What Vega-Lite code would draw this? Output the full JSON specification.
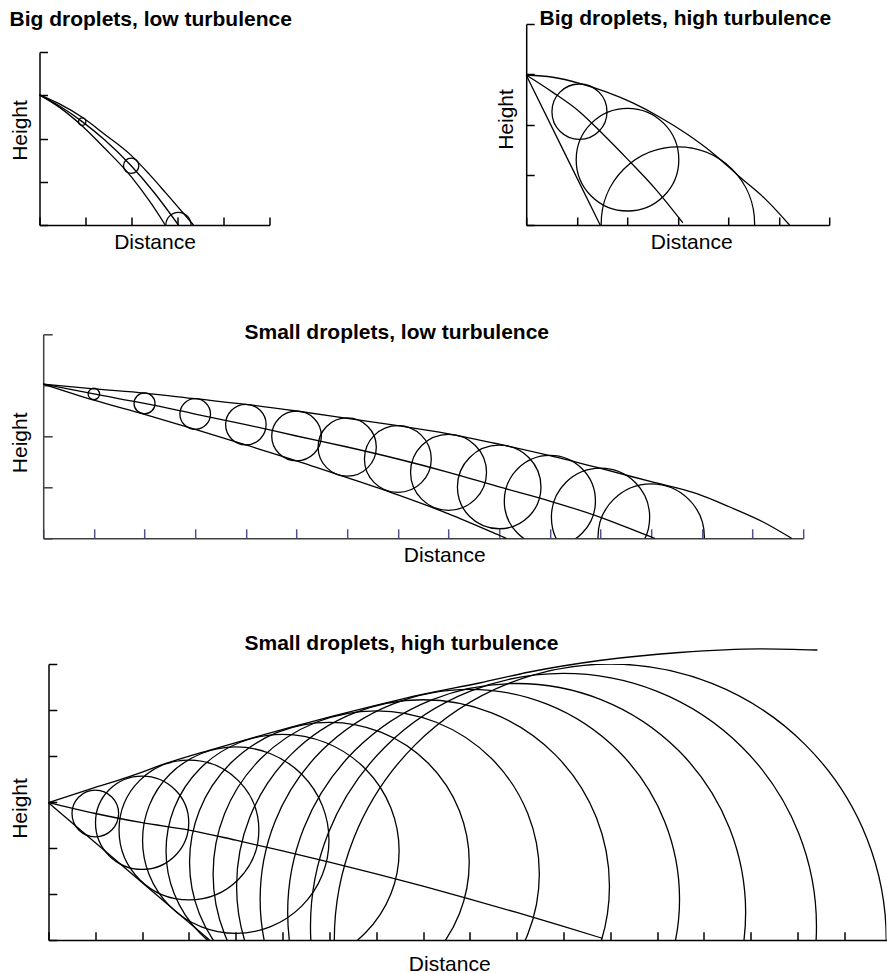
{
  "$schema": "https://vega.github.io/schema/vega-lite/v6.json",
  "padding": {"left": 8.5, "top": 7, "right": 0, "bottom": 0},
  "autosize": {"type": "pad"},
  "background": "white",
  "bounds": "flush",
  "spacing": 310.3,
  "resolve": {"scale": {"x": "independent", "y": "independent", "size": "independent"}, "legend": {"size": "independent"}},
  "config": {
    "view": {"stroke": null},
    "font": "Liberation Sans",
    "axis": {"labels": false, "grid": false, "domainColor": "#000", "tickColor": "#000", "domainWidth": 1.5, "tickWidth": 1.5, "titleFont": "Liberation Sans", "titleFontSize": 21, "titleFontWeight": "normal", "titleColor": "#000", "titleBaseline": "alphabetic"},
    "axisX": {"titleAlign": "center", "titleAngle": 0},
    "axisY": {"titleAlign": "center", "titleAngle": 270},
    "title": {"font": "Liberation Sans", "fontSize": 21, "fontWeight": "bold", "anchor": "start", "frame": "group", "color": "#000", "baseline": "alphabetic"},
    "line": {"color": "#000", "strokeWidth": 1.3, "interpolate": "monotone"},
    "point": {"shape": "circle", "filled": false, "stroke": "#000", "strokeWidth": 1.3, "opacity": 1}
  },
  "datasets": {
    "p1_lines": [
      {"s": "upper", "x": 0, "y": 3.01}, {"s": "upper", "x": 0.435, "y": 2.8}, {"s": "upper", "x": 0.928, "y": 2.49}, {"s": "upper", "x": 1.413, "y": 2.1}, {"s": "upper", "x": 1.993, "y": 1.61}, {"s": "upper", "x": 2.39, "y": 1.17}, {"s": "upper", "x": 2.755, "y": 0.73}, {"s": "upper", "x": 3.348, "y": 0},
      {"s": "middle", "x": 0, "y": 3.01}, {"s": "middle", "x": 0.435, "y": 2.75}, {"s": "middle", "x": 0.928, "y": 2.39}, {"s": "middle", "x": 1.413, "y": 1.97}, {"s": "middle", "x": 1.993, "y": 1.37}, {"s": "middle", "x": 2.5, "y": 0.74}, {"s": "middle", "x": 3.02, "y": 0},
      {"s": "lower", "x": 0, "y": 3.01}, {"s": "lower", "x": 0.435, "y": 2.72}, {"s": "lower", "x": 0.928, "y": 2.29}, {"s": "lower", "x": 1.413, "y": 1.78}, {"s": "lower", "x": 1.993, "y": 1.12}, {"s": "lower", "x": 2.39, "y": 0.555}, {"s": "lower", "x": 2.733, "y": 0}
    ],
    "p1_circles": [
      {"x": 0.928, "y": 2.39, "r": 0.08}, {"x": 1.993, "y": 1.37, "r": 0.167}, {"x": 3.02, "y": 0, "r": 0.274}
    ],
    "p2_lines": [
      {"s": "upper", "x": 0, "y": 2.985}, {"s": "upper", "x": 0.527, "y": 2.94}, {"s": "upper", "x": 1.055, "y": 2.82}, {"s": "upper", "x": 1.584, "y": 2.65}, {"s": "upper", "x": 2.111, "y": 2.43}, {"s": "upper", "x": 2.64, "y": 2.15}, {"s": "upper", "x": 3.168, "y": 1.82}, {"s": "upper", "x": 3.696, "y": 1.43}, {"s": "upper", "x": 4.224, "y": 0.96}, {"s": "upper", "x": 4.752, "y": 0.5}, {"s": "upper", "x": 5.214, "y": 0},
      {"s": "middle", "x": 0, "y": 2.985}, {"s": "middle", "x": 0.527, "y": 2.64}, {"s": "middle", "x": 1.055, "y": 2.255}, {"s": "middle", "x": 1.517, "y": 1.81}, {"s": "middle", "x": 2.006, "y": 1.31}, {"s": "middle", "x": 2.574, "y": 0.7}, {"s": "middle", "x": 3.101, "y": 0.045},
      {"s": "lower", "x": 0, "y": 2.985}, {"s": "lower", "x": 0.733, "y": 1.49}, {"s": "lower", "x": 1.465, "y": 0}
    ],
    "p2_circles": [
      {"x": 1.055, "y": 2.255, "r": 0.545}, {"x": 2.006, "y": 1.3, "r": 1.016}, {"x": 3.004, "y": 0.03, "r": 1.519}
    ],
    "p3_lines": [
      {"s": "upper", "x": 0, "y": 3.025}, {"s": "upper", "x": 1, "y": 2.93}, {"s": "upper", "x": 2, "y": 2.847}, {"s": "upper", "x": 3, "y": 2.737}, {"s": "upper", "x": 4, "y": 2.627}, {"s": "upper", "x": 5, "y": 2.496}, {"s": "upper", "x": 6, "y": 2.353}, {"s": "upper", "x": 7, "y": 2.208}, {"s": "upper", "x": 8, "y": 2.049}, {"s": "upper", "x": 9, "y": 1.845}, {"s": "upper", "x": 10, "y": 1.62}, {"s": "upper", "x": 11, "y": 1.37}, {"s": "upper", "x": 12, "y": 1.11}, {"s": "upper", "x": 12.9, "y": 0.876}, {"s": "upper", "x": 13.55, "y": 0.614}, {"s": "upper", "x": 14.21, "y": 0.32}, {"s": "upper", "x": 14.77, "y": 0},
      {"s": "middle", "x": 0, "y": 3.025}, {"s": "middle", "x": 1, "y": 2.83}, {"s": "middle", "x": 2, "y": 2.645}, {"s": "middle", "x": 3, "y": 2.437}, {"s": "middle", "x": 4, "y": 2.229}, {"s": "middle", "x": 5, "y": 2.006}, {"s": "middle", "x": 6, "y": 1.79}, {"s": "middle", "x": 7, "y": 1.555}, {"s": "middle", "x": 8, "y": 1.294}, {"s": "middle", "x": 9, "y": 1.006}, {"s": "middle", "x": 10, "y": 0.731}, {"s": "middle", "x": 11, "y": 0.412}, {"s": "middle", "x": 12, "y": 0.026}, {"s": "middle", "x": 12.07, "y": 0},
      {"s": "lower", "x": 0, "y": 3.025}, {"s": "lower", "x": 1, "y": 2.71}, {"s": "lower", "x": 2, "y": 2.43}, {"s": "lower", "x": 3, "y": 2.137}, {"s": "lower", "x": 4, "y": 1.83}, {"s": "lower", "x": 5, "y": 1.52}, {"s": "lower", "x": 6, "y": 1.19}, {"s": "lower", "x": 7, "y": 0.85}, {"s": "lower", "x": 8, "y": 0.48}, {"s": "lower", "x": 9, "y": 0.06}, {"s": "lower", "x": 9.14, "y": 0}
    ],
    "p3_circles": [
      {"x": 1, "y": 2.83, "r": 0.113}, {"x": 2, "y": 2.645, "r": 0.207}, {"x": 3, "y": 2.437, "r": 0.302}, {"x": 4, "y": 2.229, "r": 0.4}, {"x": 5, "y": 2.006, "r": 0.49}, {"x": 6, "y": 1.79, "r": 0.575}, {"x": 7, "y": 1.555, "r": 0.66}, {"x": 8, "y": 1.294, "r": 0.75}, {"x": 9, "y": 1.006, "r": 0.825}, {"x": 10, "y": 0.731, "r": 0.9}, {"x": 11, "y": 0.412, "r": 0.97}, {"x": 12, "y": 0.026, "r": 1.05}
    ],
    "p4_lines": [
      {"s": "upper", "x": 0, "y": 2.985}, {"s": "upper", "x": 0.803, "y": 3.252}, {"s": "upper", "x": 1.694, "y": 3.541}, {"s": "upper", "x": 2.561, "y": 3.854}, {"s": "upper", "x": 3.432, "y": 4.124}, {"s": "upper", "x": 4.321, "y": 4.385}, {"s": "upper", "x": 5.203, "y": 4.633}, {"s": "upper", "x": 6.113, "y": 4.876}, {"s": "upper", "x": 7.033, "y": 5.111}, {"s": "upper", "x": 7.958, "y": 5.335}, {"s": "upper", "x": 9.206, "y": 5.587}, {"s": "upper", "x": 10.273, "y": 5.826}, {"s": "upper", "x": 11.768, "y": 6.076}, {"s": "upper", "x": 13.477, "y": 6.25}, {"s": "upper", "x": 15.186, "y": 6.33}, {"s": "upper", "x": 16.424, "y": 6.304},
      {"s": "middle", "x": 0, "y": 2.985}, {"s": "middle", "x": 1, "y": 2.75}, {"s": "middle", "x": 2, "y": 2.55}, {"s": "middle", "x": 3, "y": 2.391}, {"s": "middle", "x": 4, "y": 2.17}, {"s": "middle", "x": 5, "y": 1.937}, {"s": "middle", "x": 6, "y": 1.691}, {"s": "middle", "x": 7, "y": 1.437}, {"s": "middle", "x": 8, "y": 1.17}, {"s": "middle", "x": 9, "y": 0.889}, {"s": "middle", "x": 10, "y": 0.598}, {"s": "middle", "x": 11, "y": 0.296}, {"s": "middle", "x": 11.83, "y": 0.037},
      {"s": "lower", "x": 0, "y": 2.985}, {"s": "lower", "x": 3.439, "y": 0}
    ],
    "p4_circles": [
      {"x": 1, "y": 2.75, "r": 0.498}, {"x": 2, "y": 2.55, "r": 0.996}, {"x": 3, "y": 2.391, "r": 1.493}, {"x": 4, "y": 2.17, "r": 1.991}, {"x": 5, "y": 1.937, "r": 2.489}, {"x": 6, "y": 1.691, "r": 2.987}, {"x": 7, "y": 1.437, "r": 3.484}, {"x": 8, "y": 1.17, "r": 3.982}, {"x": 9, "y": 0.889, "r": 4.479}, {"x": 10, "y": 0.598, "r": 4.891}, {"x": 11, "y": 0.296, "r": 5.404}, {"x": 12, "y": 0, "r": 5.895}
    ],
    "empty": []
  },
  "vconcat": [
    {
      "bounds": "flush",
      "spacing": 486.7,
      "resolve": {"scale": {"x": "independent", "y": "independent", "size": "independent"}, "legend": {"size": "independent"}},
      "hconcat": [
        {
          "bounds": "flush",
          "spacing": 27,
          "resolve": {"scale": {"x": "independent", "y": "independent", "size": "independent"}, "legend": {"size": "independent"}},
          "vconcat": [
            {"width": 1, "height": 1, "data": {"name": "empty"}, "mark": {"type": "point", "opacity": 0}},
            {
              "width": 230, "height": 173,
              "title": {"text": "Big droplets, low turbulence", "dx": -30, "offset": 21.5},
              "layer": [
                {
                  "data": {"name": "p1_lines"},
                  "mark": {"type": "line"},
                  "encoding": {
                    "x": {"field": "x", "type": "quantitative", "scale": {"domain": [0, 5], "nice": false, "zero": false}, "axis": {"values": [0, 1, 2, 3, 4, 5], "tickSize": -8, "title": "Distance", "titleX": 115, "titleY": 23.3}},
                    "y": {"field": "y", "type": "quantitative", "scale": {"domain": [0, 4], "nice": false, "zero": false}, "axis": {"values": [0, 1, 2, 3, 4], "tickSize": -8, "title": "Height", "titleX": -13.3, "titleY": 78}},
                    "detail": {"field": "s"}
                  }
                },
                {
                  "data": {"name": "p1_circles"},
                  "mark": {"type": "point", "clip": true},
                  "encoding": {
                    "x": {"field": "x", "type": "quantitative"},
                    "y": {"field": "y", "type": "quantitative"},
                    "size": {"field": "r", "type": "quantitative", "scale": {"type": "pow", "exponent": 2, "domain": [0, 1], "range": [0, 8464]}, "legend": null}
                  }
                }
              ]
            }
          ]
        },
        {
          "width": 303, "height": 201,
          "title": {"text": "Big droplets, high turbulence", "dx": 13.3, "offset": -5.5},
          "layer": [
            {
              "data": {"name": "p2_lines"},
              "mark": {"type": "line"},
              "encoding": {
                "x": {"field": "x", "type": "quantitative", "scale": {"domain": [0, 6], "nice": false, "zero": false}, "axis": {"values": [0, 1, 2, 3, 4, 5, 6], "tickSize": -8, "title": "Distance", "titleX": 165, "titleY": 23}},
                "y": {"field": "y", "type": "quantitative", "scale": {"domain": [0, 4], "nice": false, "zero": false}, "axis": {"values": [0, 1, 2, 3, 4], "tickSize": -8, "title": "Height", "titleX": -13.4, "titleY": 95}},
                "detail": {"field": "s"}
              }
            },
            {
              "data": {"name": "p2_circles"},
              "mark": {"type": "point", "clip": true},
              "encoding": {
                "x": {"field": "x", "type": "quantitative"},
                "y": {"field": "y", "type": "quantitative"},
                "size": {"field": "r", "type": "quantitative", "scale": {"type": "pow", "exponent": 2, "domain": [0, 2], "range": [0, 40804]}, "legend": null}
              }
            }
          ]
        }
      ]
    },
    {
      "bounds": "flush",
      "spacing": 329.7,
      "resolve": {"scale": {"x": "independent", "y": "independent", "size": "independent"}, "legend": {"size": "independent"}},
      "vconcat": [
        {
          "bounds": "flush",
          "spacing": 2.7,
          "resolve": {"scale": {"x": "independent", "y": "independent", "size": "independent"}, "legend": {"size": "independent"}},
          "hconcat": [
            {"width": 1, "height": 1, "data": {"name": "empty"}, "mark": {"type": "point", "opacity": 0}},
            {
              "width": 760, "height": 204,
              "title": {"text": "Small droplets, low turbulence", "dx": 201.3, "offset": -9.5},
              "layer": [
                {
                  "data": {"name": "p3_lines"},
                  "mark": {"type": "line"},
                  "encoding": {
                    "x": {"field": "x", "type": "quantitative", "scale": {"domain": [0, 15], "nice": false, "zero": false}, "axis": {"values": [0, 1, 2, 3, 4, 5, 6, 7, 8, 9, 10, 11, 12, 13, 14, 15], "tickSize": -9.5, "tickColor": "#505096", "domainColor": "#404040", "title": "Distance", "titleX": 401, "titleY": 23.4}},
                    "y": {"field": "y", "type": "quantitative", "scale": {"domain": [0, 4], "nice": false, "zero": false}, "axis": {"values": [0, 1, 2, 3, 4], "tickSize": -9, "domainColor": "#404040", "tickColor": "#404040", "title": "Height", "titleX": -17, "titleY": 108}},
                    "detail": {"field": "s"}
                  }
                },
                {
                  "data": {"name": "p3_circles"},
                  "mark": {"type": "point", "clip": true},
                  "encoding": {
                    "x": {"field": "x", "type": "quantitative"},
                    "y": {"field": "y", "type": "quantitative"},
                    "size": {"field": "r", "type": "quantitative", "scale": {"type": "pow", "exponent": 2, "domain": [0, 2], "range": [0, 41031]}, "legend": null}
                  }
                }
              ]
            }
          ]
        },
        {
          "bounds": "flush",
          "spacing": 8,
          "resolve": {"scale": {"x": "independent", "y": "independent", "size": "independent"}, "legend": {"size": "independent"}},
          "hconcat": [
            {"width": 1, "height": 1, "data": {"name": "empty"}, "mark": {"type": "point", "opacity": 0}},
            {
              "width": 838, "height": 276,
              "title": {"text": "Small droplets, high turbulence", "dx": 196, "offset": -7.3},
              "layer": [
                {
                  "data": {"name": "p4_lines"},
                  "mark": {"type": "line"},
                  "encoding": {
                    "x": {"field": "x", "type": "quantitative", "scale": {"domain": [0, 17.9], "nice": false, "zero": false}, "axis": {"values": [0, 1, 2, 3, 4, 5, 6, 7, 8, 9, 10, 11, 12, 13, 14, 15, 16, 17], "tickSize": -8.3, "title": "Distance", "titleX": 400.7, "titleY": 30}},
                    "y": {"field": "y", "type": "quantitative", "scale": {"domain": [0, 6], "nice": false, "zero": false}, "axis": {"values": [0, 1, 2, 3, 4, 5, 6], "tickSize": -8.3, "title": "Height", "titleX": -22.3, "titleY": 144}},
                    "detail": {"field": "s"}
                  }
                },
                {
                  "data": {"name": "p4_circles"},
                  "mark": {"type": "point", "clip": true},
                  "encoding": {
                    "x": {"field": "x", "type": "quantitative"},
                    "y": {"field": "y", "type": "quantitative"},
                    "size": {"field": "r", "type": "quantitative", "scale": {"type": "pow", "exponent": 2, "domain": [0, 6], "range": [0, 315635]}, "legend": null}
                  }
                }
              ]
            }
          ]
        }
      ]
    }
  ]
}
